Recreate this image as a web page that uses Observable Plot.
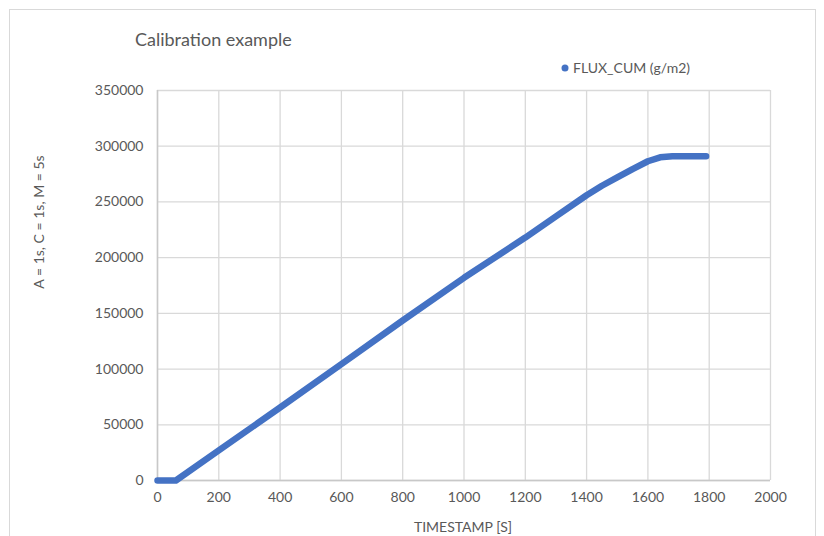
<!DOCTYPE html>
<html>
<head>
<meta charset="utf-8">
<script src="https://cdn.jsdelivr.net/npm/d3@7"></script>
<script src="https://cdn.jsdelivr.net/npm/@observablehq/plot@0.6"></script>
<style>
  html, body { margin: 0; padding: 0; background: #fff; }
  #chart { width: 824px; height: 536px; }
</style>
</head>
<body>
<div id="chart"></div>
<script>
const title = "Calibration example";
const seriesName = "FLUX_CUM (g/m2)";
const xLabel = "TIMESTAMP [S]";
const yLabel = "A = 1s, C = 1s, M = 5s";

const timestamps = [0, 60, 200, 400, 600, 800, 1000, 1200, 1300, 1400, 1450, 1500, 1550, 1600, 1640, 1680, 1790];
const fluxCum    = [0, 0, 27000, 65500, 104500, 143600, 181900, 218000, 237000, 256000, 264500, 272000, 279500, 286500, 290000, 291000, 291000];

const xTicks = [0, 200, 400, 600, 800, 1000, 1200, 1400, 1600, 1800, 2000];
const yTicks = [0, 50000, 100000, 150000, 200000, 250000, 300000, 350000];

const data = timestamps.map((t, i) => ({t, v: fluxCum[i]}));

const font = "Lato, 'Open Sans', sans-serif";
const grey = "#595959";
const blue = "#4472C4";
const plain = d => String(d);

const plot = Plot.plot({
  width: 824,
  height: 536,
  marginLeft: 157,
  marginRight: 54,
  marginTop: 90,
  marginBottom: 56,
  style: {fontFamily: font, fontSize: "14px", color: grey, background: "#fff"},
  x: {domain: [0, 2000], label: null},
  y: {domain: [0, 350000], label: null},
  marks: [
    Plot.gridX(xTicks, {stroke: "#d9d9d9", strokeOpacity: 1, strokeWidth: 1.3}),
    Plot.gridY(yTicks, {stroke: "#d9d9d9", strokeOpacity: 1, strokeWidth: 1.3}),
    Plot.ruleX([0], {stroke: "#c8c8c8", strokeWidth: 1.5}),
    Plot.ruleY([0], {stroke: "#c8c8c8", strokeWidth: 1.5}),
    Plot.axisX(xTicks, {tickSize: 0, tickPadding: 12, tickFormat: plain, fill: grey, fontSize: 14, label: null}),
    Plot.axisY(yTicks, {tickSize: 0, tickPadding: 14, tickFormat: plain, fill: grey, fontSize: 14, label: null}),
    Plot.line(data, {x: "t", y: "v", stroke: blue, strokeWidth: 6.5, strokeLinecap: "round", strokeLinejoin: "round"})
  ]
});

document.getElementById("chart").appendChild(plot);

const svg = d3.select(plot);
svg.insert("rect", ":first-child")
  .attr("x", 9.5).attr("y", 9.5).attr("width", 806).attr("height", 540)
  .attr("fill", "#fff").attr("stroke", "#d9d9d9").attr("stroke-width", 1);

svg.append("text")
  .attr("x", 135).attr("y", 46)
  .attr("text-anchor", "start")
  .attr("font-family", font).attr("font-size", 18).attr("fill", grey)
  .text(title);

svg.append("circle")
  .attr("cx", 565).attr("cy", 68).attr("r", 3.5).attr("fill", blue);
svg.append("text")
  .attr("x", 573).attr("y", 73)
  .attr("text-anchor", "start")
  .attr("font-family", font).attr("font-size", 14).attr("fill", grey)
  .text(seriesName);

svg.append("text")
  .attr("x", 463).attr("y", 532)
  .attr("text-anchor", "middle")
  .attr("font-family", font).attr("font-size", 14).attr("fill", grey)
  .text(xLabel);

svg.append("text")
  .attr("transform", "translate(44,222) rotate(-90)")
  .attr("text-anchor", "middle")
  .attr("font-family", font).attr("font-size", 14).attr("fill", grey)
  .text(yLabel);
</script>
</body>
</html>
